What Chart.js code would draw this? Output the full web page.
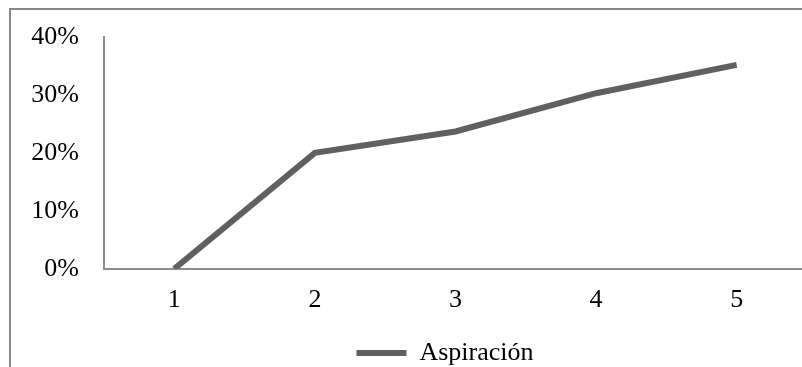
<!DOCTYPE html>
<html>
<head>
<meta charset="utf-8">
<script src="https://cdn.jsdelivr.net/npm/chart.js@4"></script>
<style>
  html, body { margin: 0; padding: 0; background: #fff; overflow: hidden; width: 802px; height: 367px; }
  #frame {
    position: absolute; left: 9px; top: 8px;
    width: 868px; height: 380px;
    border-left: 2px solid #878787; border-top: 2px solid #878787;
  }
  #chartCanvas { display: block; }
</style>
</head>
<body>
<div id="frame">
  <canvas id="chartCanvas" width="868" height="366"></canvas>
</div>
<script>
// chart data
const categories = ['1', '2', '3', '4', '5'];
const seriesName = 'Aspiración';
const seriesValues = [0, 0.20, 0.237, 0.303, 0.352];
const yTicks = [0, 0.1, 0.2, 0.3, 0.4];

const lineColor = '#606060';
const axisColor = '#8c8c8c';
const fontFamily = '"Liberation Serif", "Times New Roman", serif';

const data = {
  labels: categories,
  datasets: [{
    label: seriesName,
    data: seriesValues,
    borderColor: lineColor,
    backgroundColor: lineColor,
    borderWidth: 6,
    pointRadius: 0,
    tension: 0,
    borderCapStyle: 'butt',
    borderJoinStyle: 'miter'
  }]
};

const options = {
  responsive: false,
  animation: false,
  layout: { padding: { top: 27, left: 0, right: 0, bottom: 0 } },
  plugins: {
    tooltip: { enabled: false },
    legend: {
      position: 'bottom',
      labels: {
        color: '#000',
        font: { family: fontFamily, size: 26 },
        boxWidth: 50,
        boxHeight: 6,
        padding: 8,
        generateLabels(chart) {
          let items = Chart.defaults.plugins.legend.labels.generateLabels(chart);
          items.forEach(it => { it.lineWidth = 0; it.fillStyle = lineColor; });
          return items;
        }
      }
    }
  },
  scales: {
    x: {
      type: 'category',
      offset: true,
      grid: { display: false, drawTicks: false },
      border: { display: true, color: axisColor, width: 2 },
      ticks: { color: '#000', padding: 16, maxRotation: 0, font: { family: fontFamily, size: 26 } }
    },
    y: {
      min: 0,
      max: 0.4,
      afterBuildTicks(scale) {
        scale.ticks = yTicks.map(v => ({ value: v }));
      },
      afterFit(scale) {
        scale.width = 93;
        // the top label may hang over; the layout padding sets the top
        scale.paddingTop = 0;
        scale.paddingBottom = 0;
      },
      grid: { display: false, drawTicks: false },
      border: { display: true, color: axisColor, width: 2 },
      ticks: {
        color: '#000',
        padding: 25,
        font: { family: fontFamily, size: 26 },
        callback: v => Math.round(v * 100) + '%'
      }
    },
    // empty axis that only keeps room on the right of the plot
    spacer: {
      type: 'linear',
      position: 'right',
      grid: { display: false, drawTicks: false },
      border: { display: false },
      ticks: { display: false },
      afterFit(scale) {
        scale.width = 72;
      }
    }
  }
};

new Chart(document.getElementById('chartCanvas'), {
  type: 'line',
  data: data,
  options: options
});
</script>
</body>
</html>
